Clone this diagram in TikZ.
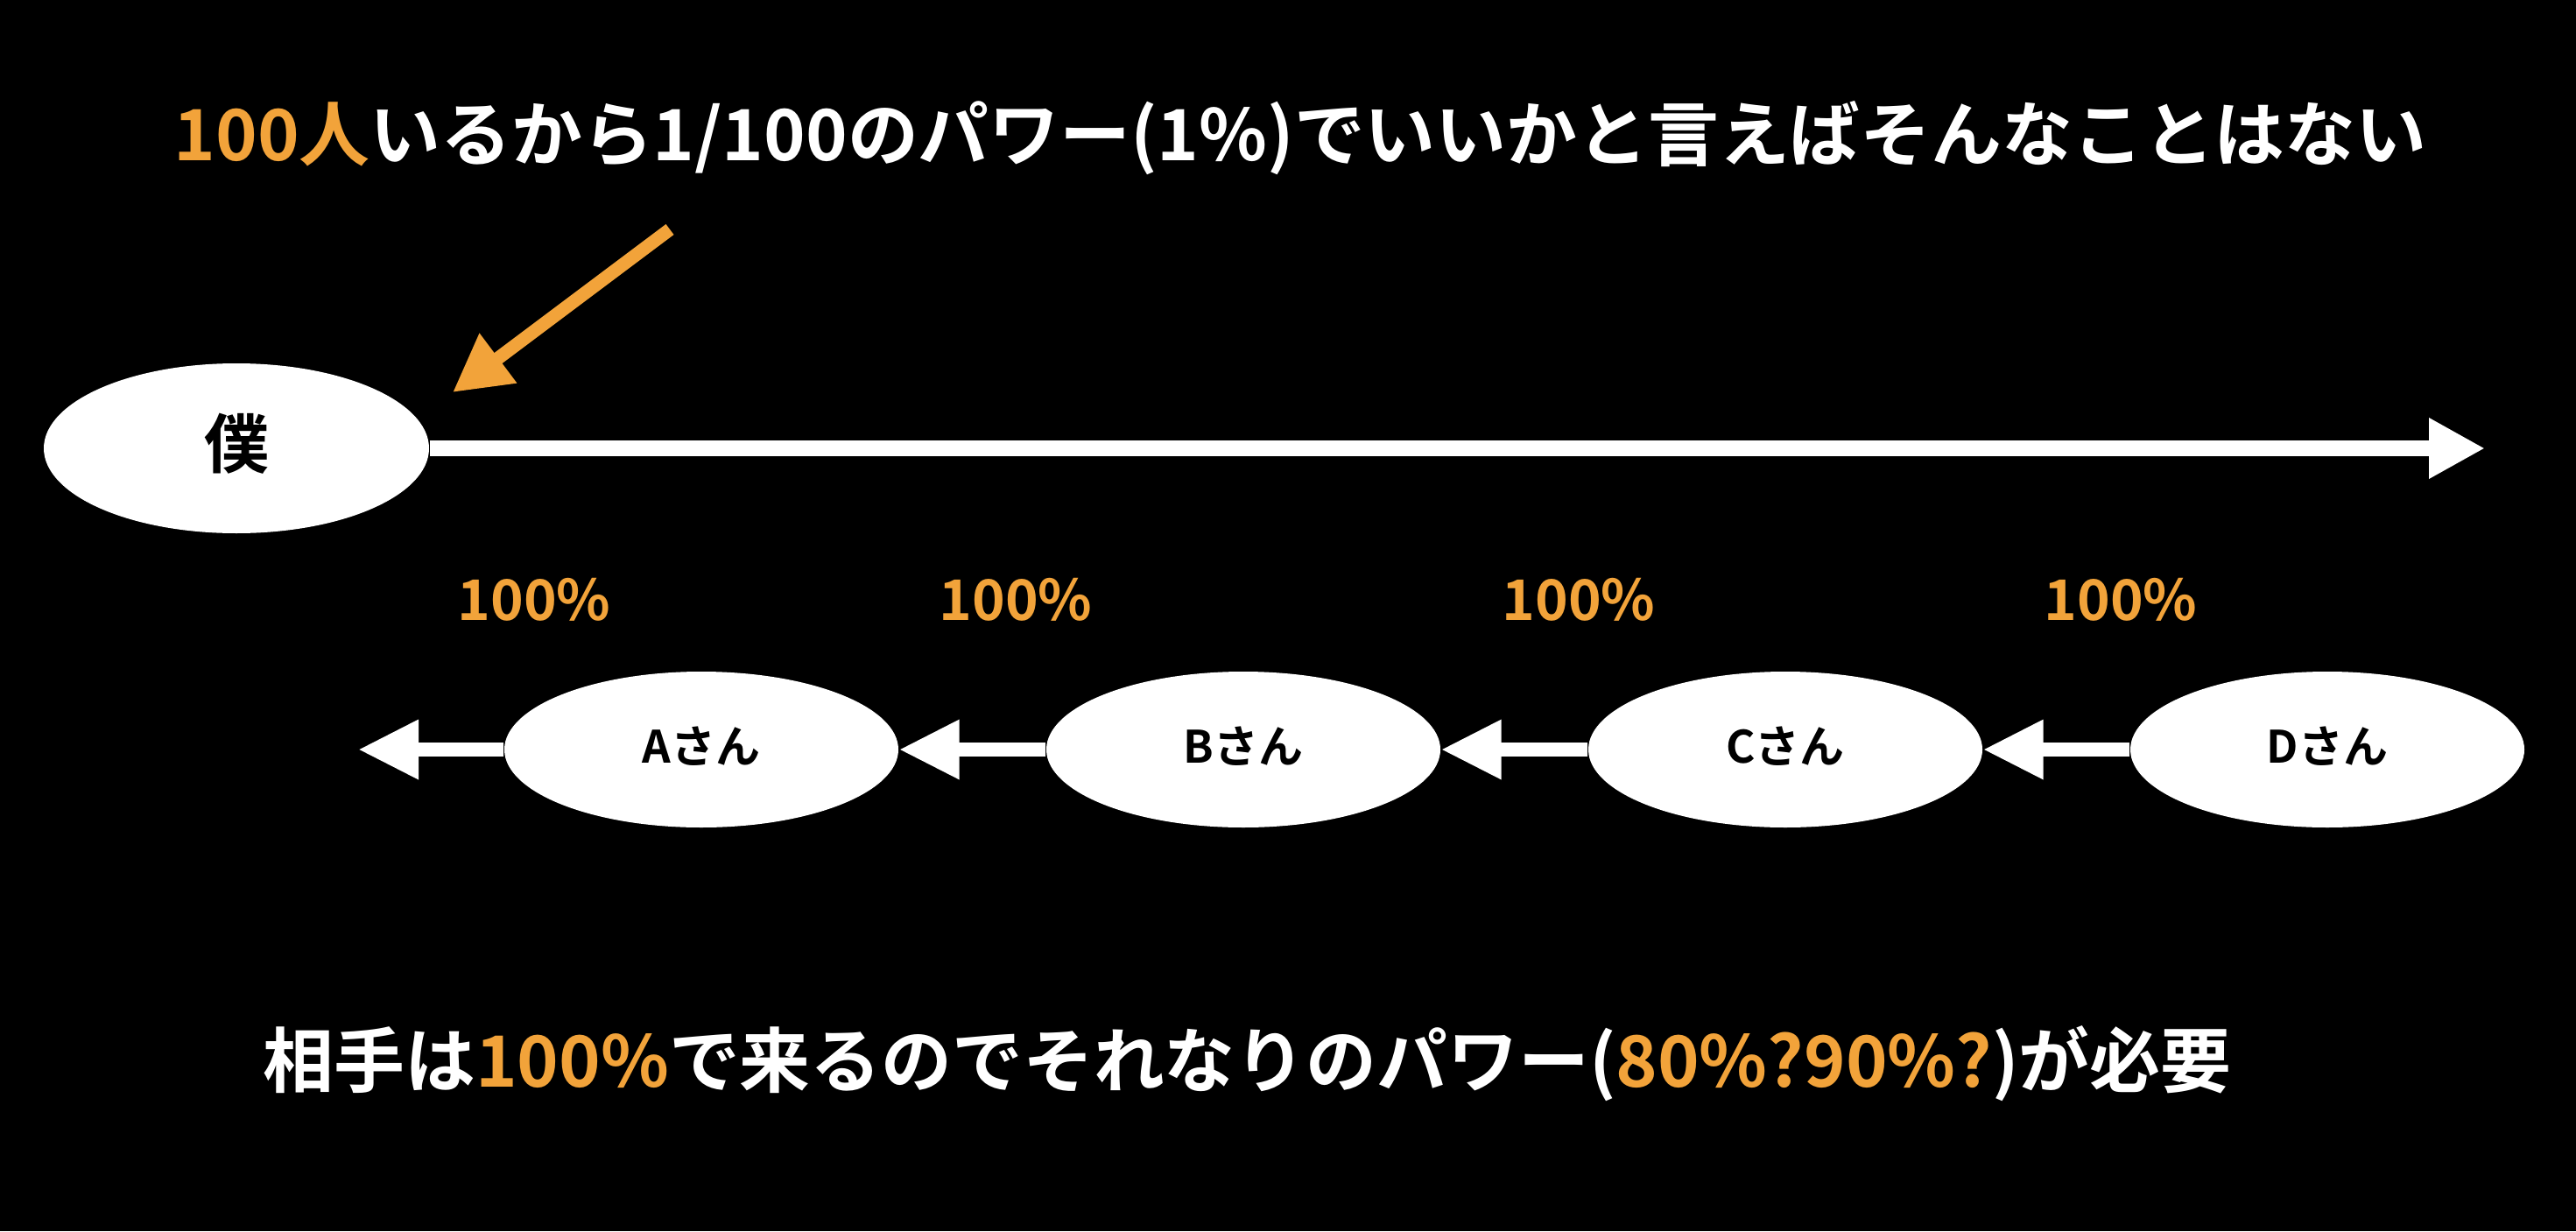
\documentclass[tikz,border=0pt]{standalone}
\usepackage{fontspec}
\setmainfont{Noto Sans CJK JP}[BoldFont=* Bold]
\usetikzlibrary{arrows.meta,shapes.geometric}
\definecolor{accent}{HTML}{F2A33A}
\tikzset{
  bubble/.style={ellipse, fill=white, draw=none, inner sep=0pt, text=black, font=\bfseries},
  bigbubble/.style={bubble, minimum width=4.4cm, minimum height=1.94cm, font=\bfseries\fontsize{21pt}{24pt}\selectfont},
  smallbubble/.style={bubble, minimum width=4.5cm, minimum height=1.78cm, font=\bfseries\fontsize{14.5pt}{17pt}\selectfont},
  mainarrow/.style={draw=white, line width=0.18cm, -{Triangle[length=0.64cm, width=0.65cm]}},
  backarrow/.style={draw=white, line width=0.16cm, -{Triangle[length=0.69cm, width=0.64cm]}},
  pointer/.style={draw=accent, line width=0.15cm, -{Triangle[length=0.65cm, width=0.67cm]}},
  pct/.style={text=accent, font=\bfseries\fontsize{18.2pt}{22pt}\selectfont, inner sep=0pt},
  headline/.style={text=white, font=\bfseries\fontsize{23pt}{27pt}\selectfont, inner sep=0pt, anchor=west}
}
\begin{document}
\begin{tikzpicture}
\fill[black] (0,0) rectangle (29.42,-14.06);
\useasboundingbox (0,0) rectangle (29.42,-14.06);

\node[headline] (top) at (1.98,-1.58) {\textcolor{accent}{100人}いるから1/100のパワー(1\%)でいいかと言えばそんなことはない};

\node[bigbubble] (me) at (2.70,-5.12) {\raisebox{0.18cm}{僕}};
\coordinate (mainend) at (28.38,-5.12);
\draw[mainarrow] (me.east) -- (mainend);

\coordinate (ptail) at (7.65,-2.62);
\coordinate (phead) at (5.17,-4.48);
\draw[pointer] (ptail) -- (phead);

\node[pct] (pa) at (6.10,-6.85) {100\%};
\node[pct] (pb) at (11.60,-6.85) {100\%};
\node[pct] (pc) at (18.03,-6.85) {100\%};
\node[pct] (pd) at (24.22,-6.85) {100\%};

\node[smallbubble] (A) at (8.01,-8.56) {\raisebox{0.11cm}{Aさん}};
\node[smallbubble] (B) at (14.20,-8.56) {\raisebox{0.11cm}{Bさん}};
\node[smallbubble] (C) at (20.39,-8.56) {\raisebox{0.11cm}{Cさん}};
\node[smallbubble] (D) at (26.58,-8.56) {\raisebox{0.11cm}{Dさん}};
\coordinate (aend) at (4.09,-8.56);

\draw[backarrow] (A.west) -- (aend);
\draw[backarrow] (B.west) -- (A.east);
\draw[backarrow] (C.west) -- (B.east);
\draw[backarrow] (D.west) -- (C.east);

\node[headline] (bottom) at (3.00,-12.15) {相手は\textcolor{accent}{100\%}で来るのでそれなりのパワー(\textcolor{accent}{80\%?90\%?})が必要};
\end{tikzpicture}
\end{document}
